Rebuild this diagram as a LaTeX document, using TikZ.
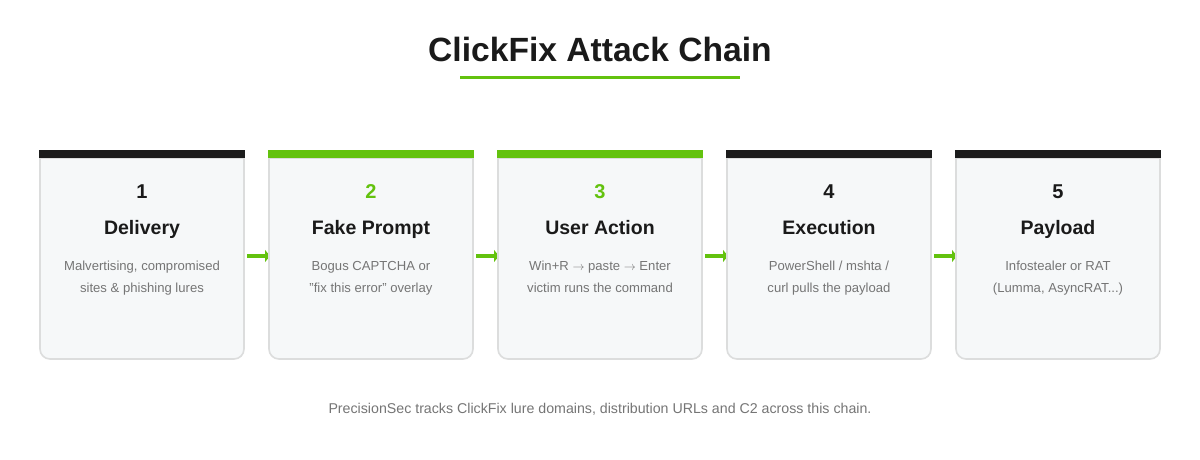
\documentclass[tikz,border=0pt]{standalone}
\usepackage{fontspec}
\setmainfont{Liberation Sans}
\usetikzlibrary{arrows.meta}
\definecolor{cfgreen}{HTML}{63C20E}
\definecolor{cfdark}{HTML}{1C1C1C}
\definecolor{cftext}{HTML}{1A1A1A}
\definecolor{cfgray}{HTML}{757575}
\definecolor{cffill}{HTML}{F6F8F9}
\definecolor{cfline}{HTML}{DCDDDD}
\newcommand{\cfarr}{\ensuremath{\rightarrow}}
\newcommand{\cfq}{\symbol{34}}
\tikzset{
  cardbox/.style={minimum width=204pt, minimum height=201pt, inner sep=0pt, outer sep=0pt},
  cardshape/.style={fill=cffill, draw=cfline, line width=1.6pt},
  numtxt/.style={font=\fontsize{20}{24}\selectfont\bfseries, inner sep=0pt},
  headtxt/.style={font=\fontsize{19.5}{23}\selectfont\bfseries, text=cftext, inner sep=0pt},
  bodytxt/.style={font=\fontsize{13.1}{22}\selectfont, text=cfgray, align=center, inner sep=0pt},
  flowarrow/.style={draw=cfgreen, line width=3.3pt, -{Triangle[length=5pt,width=12pt]}, shorten <=3pt, shorten >=-1pt},
}
\begin{document}
\begin{tikzpicture}[x=1pt,y=1pt]
\useasboundingbox[fill=white] (0,0) rectangle (1200,-460);
\node[font=\fontsize{33.6}{40}\selectfont\bfseries, text=cftext, inner sep=0pt] (title) at (600,-49) {ClickFix Attack Chain};
\coordinate (ul1) at (460,-78);
\coordinate (ul2) at (740,-78);
\draw[cfgreen, line width=3pt] (ul1) -- (ul2);

\foreach \i in {1,...,5} {
  \pgfmathsetmacro{\cx}{142+229*(\i-1)}
  \node[cardbox] (c\i) at (\cx,-258.5) {};
}
\foreach \a/\b in {1/2,2/3,3/4,4/5} {
  \draw[flowarrow] ([yshift=2.5pt]c\a.east) -- ([yshift=2.5pt]c\b.west);
}
\foreach \i/\num/\bar/\head/\bodyA/\bodyB in {
  1/1/cfdark/Delivery/{Malvertising, compromised}/{sites \& phishing lures},
  2/2/cfgreen/Fake Prompt/{Bogus CAPTCHA or}/{\cfq fix this error\cfq{} overlay},
  3/3/cfgreen/User Action/{Win+R \cfarr{} paste \cfarr{} Enter}/{victim runs the command},
  4/4/cfdark/Execution/{PowerShell / mshta /}/{curl pulls the payload},
  5/5/cfdark/Payload/{Infostealer or RAT}/{(Lumma, AsyncRAT...)}} {
  \pgfmathsetmacro{\cx}{142+229*(\i-1)}
  \path[cardshape] (c\i.north west) -- ([yshift=10pt]c\i.south west)
     arc[start angle=180, end angle=270, radius=10pt]
     -- ([xshift=-10pt]c\i.south east)
     arc[start angle=270, end angle=360, radius=10pt]
     -- (c\i.north east) -- cycle;
  \fill[\bar] ([xshift=-0.8pt]c\i.north west) rectangle ([xshift=0.8pt,yshift=8pt]c\i.north east);
  \ifnum\i=2 \def\numcol{cfgreen}\else\ifnum\i=3 \def\numcol{cfgreen}\else\def\numcol{cftext}\fi\fi
  \node[numtxt, text=\numcol, anchor=base] (n\i) at (\cx,-198) {\num};
  \node[headtxt, anchor=base] (h\i) at (\cx,-234) {\head};
  \node[bodytxt, anchor=base] (b\i) at (\cx,-270) {\bodyA};
  \node[bodytxt, anchor=base] (d\i) at (\cx,-292) {\bodyB};
}
\node[font=\fontsize{14.2}{17}\selectfont, text=cfgray, inner sep=0pt, anchor=base] (foot) at (600,-413) {PrecisionSec tracks ClickFix lure domains, distribution URLs and C2 across this chain.};
\end{tikzpicture}
\end{document}
